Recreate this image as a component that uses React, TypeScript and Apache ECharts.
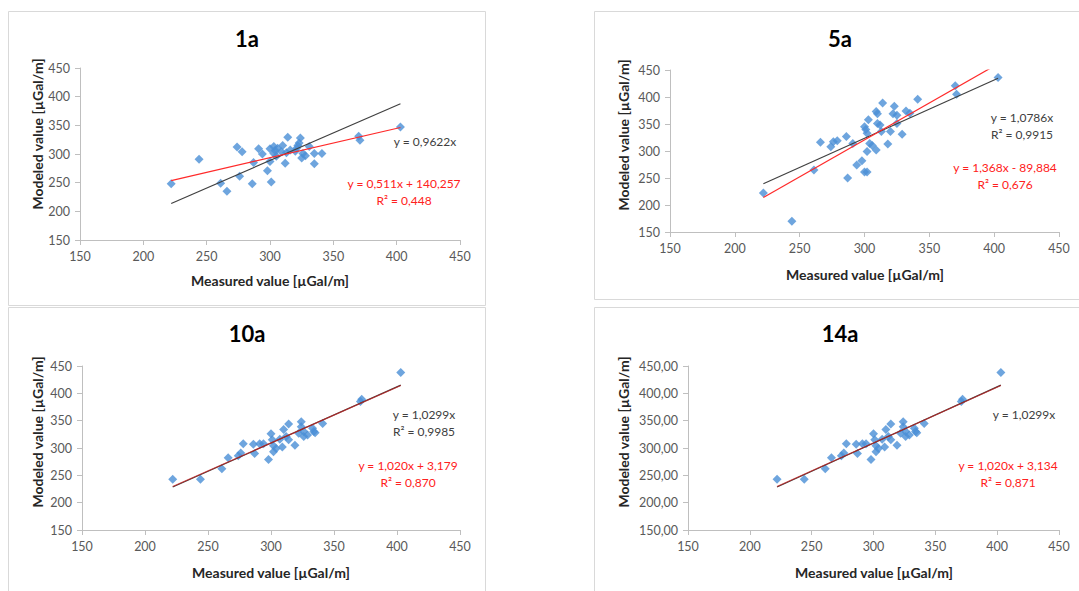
import React, { useEffect, useRef } from "react";
import * as echarts from "echarts";

// Shared axis scale (both axes, every panel)
const axisMin = 150;
const axisMax = 450;
const axisStep = 50;

const panelTitles = ["1a", "5a", "10a", "14a"];

// [measured, modeled] pairs per panel, µGal/m
const points1a: [number, number][] = [
  [222, 248], [244, 291], [261, 249], [266, 235], [274, 312], [276, 261],
  [278, 304], [286, 248], [287, 285], [291, 309], [294, 300], [298, 271],
  [300, 309], [301, 251], [300, 287], [303, 313], [303, 301], [304, 306],
  [305, 296], [306, 310], [309, 304], [310, 315], [312, 284], [313, 302],
  [314, 329], [316, 307], [320, 305], [321, 310], [322, 315], [323, 319],
  [324, 328], [325, 293], [326, 301], [328, 297], [331, 313], [335, 301],
  [335, 283], [341, 301], [370, 331], [371, 324], [403, 347],
];

const points5a: [number, number][] = [
  [222, 222], [244, 170], [261, 265], [266, 316], [274, 308], [276, 317],
  [279, 319], [286, 327], [287, 250], [291, 314], [294, 274], [298, 282],
  [300, 345], [300, 261], [301, 340], [302, 333], [302, 261], [302, 299],
  [303, 358], [304, 314], [306, 310], [309, 302], [309, 373], [310, 369],
  [310, 351], [312, 348], [313, 336], [314, 389], [318, 313], [320, 336],
  [322, 369], [323, 383], [325, 351], [325, 366], [329, 331], [332, 374],
  [335, 370], [341, 396], [370, 421], [371, 405], [403, 436],
];

const points10a: [number, number][] = [
  [222, 243], [244, 243], [261, 262], [266, 282], [274, 286], [276, 291],
  [278, 308], [286, 307], [287, 290], [291, 308], [294, 308], [298, 279],
  [300, 326], [301, 315], [302, 293], [302, 304], [304, 299], [307, 316],
  [309, 302], [310, 334], [312, 321], [314, 344], [314, 315], [319, 305],
  [322, 327], [324, 348], [324, 339], [326, 330], [326, 321], [329, 324],
  [333, 336], [334, 330], [335, 328], [341, 345], [371, 385], [372, 389],
  [403, 438],
];

const points14a: [number, number][] = [
  [222, 243], [244, 243], [261, 262], [266, 282], [274, 286], [276, 291],
  [278, 308], [286, 307], [287, 290], [291, 308], [294, 308], [298, 279],
  [300, 326], [301, 315], [302, 293], [302, 304], [304, 299], [307, 316],
  [309, 302], [310, 334], [312, 321], [314, 344], [314, 315], [319, 305],
  [322, 327], [324, 348], [324, 339], [326, 330], [326, 321], [329, 324],
  [333, 336], [334, 330], [335, 328], [341, 345], [371, 385], [372, 389],
  [403, 438],
];

// Trendlines: y = k·x (black) and y = a·x + b (red)
const originSlopes = [0.9622, 1.0786, 1.0299, 1.0299];
const fitSlopes = [0.511, 1.368, 1.02, 1.02];
const fitIntercepts = [140.257, -89.884, 3.179, 3.134];

const originLabels = [
  "y = 0,9622x",
  "y = 1,0786x\nR² = 0,9915",
  "y = 1,0299x\nR² = 0,9985",
  "y = 1,0299x",
];
const fitLabels = [
  "y = 0,511x + 140,257\nR² = 0,448",
  "y = 1,368x - 89,884\nR² = 0,676",
  "y = 1,020x + 3,179\nR² = 0,870",
  "y = 1,020x + 3,134\nR² = 0,871",
];

const panelPoints = [points1a, points5a, points10a, points14a];

// Page layout of each panel (frame, plot area, text anchors)
const layout = [
  {
    frame: [8, 11, 477, 294], grid: [80, 68, 380, 172], decimals: 0,
    title: [247, 38], yName: [37, 134], xName: [270, 280],
    origin: [425, 141], fit: [404, 192],
  },
  {
    frame: [594, 11, 490, 288], grid: [670, 70, 389, 162], decimals: 0,
    title: [840, 38], yName: [623, 135], xName: [865, 274],
    origin: [1022, 126], fit: [1005, 176],
  },
  {
    frame: [8, 307, 477, 290], grid: [82, 366, 378, 164], decimals: 0,
    title: [247, 333], yName: [37, 432], xName: [271, 572],
    origin: [424, 423], fit: [408, 474],
  },
  {
    frame: [594, 307, 490, 290], grid: [688, 366, 371, 164], decimals: 2,
    title: [840, 333], yName: [623, 432], xName: [874, 572],
    origin: [1024, 414], fit: [1008, 474],
  },
];

const FONT = "Lato, 'Open Sans', sans-serif";
const BLUE = "#4A8FD6";
const AXIS_GRAY = "#BFBFBF";
const LABEL_GRAY = "#595959";

function buildOption(): echarts.EChartsOption {
  const grids: any[] = [];
  const xAxes: any[] = [];
  const yAxes: any[] = [];
  const series: any[] = [];
  const graphics: any[] = [];

  layout.forEach((p, i) => {
    const [gl, gt, gw, gh] = p.grid;
    grids.push({ left: gl, top: gt, width: gw, height: gh, containLabel: false });

    const axisCommon = {
      type: "value",
      gridIndex: i,
      min: axisMin,
      max: axisMax,
      interval: axisStep,
      splitLine: { show: false },
      axisLine: { show: true, onZero: false, lineStyle: { color: AXIS_GRAY, width: 1 } },
      axisTick: { show: true, length: 5, lineStyle: { color: AXIS_GRAY } },
    };
    xAxes.push({
      ...axisCommon,
      axisLabel: { color: LABEL_GRAY, fontSize: 12.5, fontFamily: FONT, margin: 10 },
    });
    yAxes.push({
      ...axisCommon,
      axisLabel: {
        color: LABEL_GRAY,
        fontSize: 12.5,
        fontFamily: FONT,
        margin: 10,
        formatter: (v: number) => v.toFixed(p.decimals).replace(".", ","),
      },
    });

    const pts = panelPoints[i];
    const xs = pts.map((d) => d[0]);
    const x0 = Math.min(...xs);
    const x1 = Math.max(...xs);

    series.push({
      type: "scatter",
      xAxisIndex: i,
      yAxisIndex: i,
      data: pts,
      symbol: "diamond",
      symbolSize: 9,
      itemStyle: { color: BLUE },
      z: 2,
    });
    const k = originSlopes[i];
    series.push({
      type: "line",
      xAxisIndex: i,
      yAxisIndex: i,
      data: [[x0, k * x0], [x1, k * x1]],
      showSymbol: false,
      symbol: "none",
      clip: true,
      lineStyle: { color: "#404040", width: 1.2 },
      z: 3,
    });
    const a = fitSlopes[i];
    const b = fitIntercepts[i];
    series.push({
      type: "line",
      xAxisIndex: i,
      yAxisIndex: i,
      data: [[x0, a * x0 + b], [x1, a * x1 + b]],
      showSymbol: false,
      symbol: "none",
      clip: true,
      lineStyle: { color: i >= 2 ? "rgba(200,30,30,0.75)" : "#FF2A2A", width: 1.2 },
      z: 4,
    });

    const [fx, fy, fw, fh] = p.frame;
    graphics.push({
      type: "rect",
      shape: { x: fx + 0.5, y: fy + 0.5, width: fw, height: fh },
      style: { fill: "none", stroke: "#D9D9D9", lineWidth: 1 },
      silent: true,
    });

    const text = (
      pos: number[],
      t: string,
      font: string,
      fill: string,
      rotation = 0,
      lineHeight = 17
    ) => ({
      type: "text",
      x: pos[0],
      y: pos[1],
      rotation,
      silent: true,
      style: {
        text: t,
        font,
        fill,
        lineHeight,
        align: "center",
        verticalAlign: "middle",
        textAlign: "center",
        textVerticalAlign: "middle",
      },
    });

    graphics.push(text(p.title, panelTitles[i], `bold 22px ${FONT}`, "#000000"));
    graphics.push(
      text(p.yName, "Modeled value [µGal/m]", `bold 14px ${FONT}`, "#262626", Math.PI / 2)
    );
    graphics.push(text(p.xName, "Measured value [µGal/m]", `bold 14px ${FONT}`, "#262626"));
    graphics.push(text(p.origin, originLabels[i], `12px ${FONT}`, "#404040"));
    graphics.push(text(p.fit, fitLabels[i], `12px ${FONT}`, "#FF2020"));
  });

  return {
    animation: false,
    backgroundColor: "#FFFFFF",
    grid: grids,
    xAxis: xAxes,
    yAxis: yAxes,
    series,
    graphic: { elements: graphics },
  };
}

export default function App() {
  const ref = useRef<HTMLDivElement>(null);

  useEffect(() => {
    if (!ref.current) return;
    const chart = echarts.init(ref.current, undefined, { renderer: "svg" });
    chart.setOption(buildOption());
    return () => chart.dispose();
  }, []);

  return (
    <div
      ref={ref}
      style={{ position: "fixed", left: 0, top: 0, width: 1079, height: 591, background: "#fff" }}
    />
  );
}
